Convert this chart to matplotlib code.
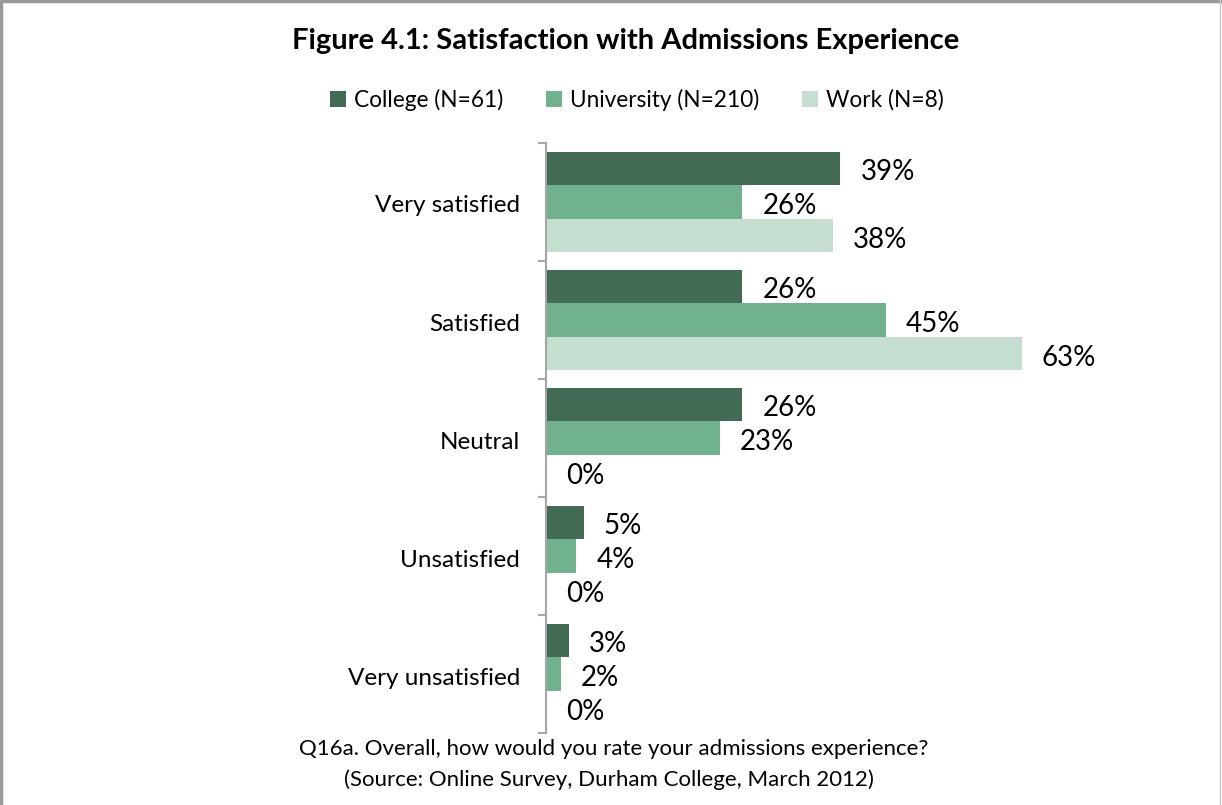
import matplotlib
matplotlib.use("Agg")
import matplotlib.pyplot as plt
from matplotlib.patches import Patch
from matplotlib.lines import Line2D
import numpy as np

plt.rcParams['font.family'] = ['Lato', 'DejaVu Sans']

categories = ["Very satisfied", "Satisfied", "Neutral", "Unsatisfied", "Very unsatisfied"]
series_names = ["College (N=61)", "University (N=210)", "Work (N=8)"]
college = [39, 26, 26, 5, 3]
university = [26, 45, 23, 4, 2]
work = [38, 63, 0, 0, 0]
colors = ["#436A55", "#70B28E", "#C5DED0"]

title = "Figure 4.1: Satisfaction with Admissions Experience"
footer1 = "Q16a. Overall, how would you rate your admissions experience?"
footer2 = "(Source: Online Survey, Durham College, March 2012)"

W, H = 1222, 805
fig = plt.figure(figsize=(W / 100, H / 100), dpi=100)

ax_left, ax_right = 546, 1150
ax_top, ax_bottom = 143, 733
ax = fig.add_axes([ax_left / W, 1 - ax_bottom / H, (ax_right - ax_left) / W, (ax_bottom - ax_top) / H])
px_per_pct = 7.55
ax.set_xlim(0, (ax_right - ax_left) / px_per_pct)
ax.set_ylim(len(categories), 0)

bar_h = 0.284
series = [college, university, work]
for i, (vals, col) in enumerate(zip(series, colors)):
    ys = np.arange(len(categories)) + 0.5 + (i - 1) * bar_h
    ax.barh(ys, vals, height=bar_h, color=col, edgecolor='none')
    for y, v in zip(ys, vals):
        ax.annotate(f"{v}%", (v, y), xytext=(20, -4), textcoords='offset pixels',
                    va='center', ha='left', fontsize=20, color='black')

# category labels
for k, c in enumerate(categories):
    ax.annotate(c, (0, k + 0.5), xytext=(-26, -4), textcoords='offset pixels',
                ha='right', va='center', fontsize=17.5)

for s in ['top', 'right', 'bottom']:
    ax.spines[s].set_visible(False)
ax.spines['left'].set_color('#A6A6A6')
ax.spines['left'].set_linewidth(1.5)
ax.set_xticks([])
ax.set_yticks(np.arange(len(categories) + 1))
ax.set_yticklabels([])
ax.tick_params(axis='y', direction='out', length=6, width=1.5, color='#A6A6A6')

fig.text(0.512, 1 - 41 / H, title, ha='center', va='center', fontsize=21, fontweight='bold')

handles = [Patch(facecolor=c, edgecolor='none') for c in colors]
fig.legend(handles, series_names, loc='center', bbox_to_anchor=(0.521, 1 - 100 / H),
           ncol=3, frameon=False, fontsize=16.3, handlelength=0.7, handleheight=0.7,
           handletextpad=0.35, columnspacing=1.9)

fig.text(0.502, 1 - 749 / H, footer1, ha='center', va='center', fontsize=16)
fig.text(0.498, 1 - 780 / H, footer2, ha='center', va='center', fontsize=16)

# outer frame
fig.add_artist(Line2D([1 / W, 1 / W], [0, 1], transform=fig.transFigure, color='#9A9A9A', lw=2.5))
fig.add_artist(Line2D([0, 1], [1 - 1.5 / H, 1 - 1.5 / H], transform=fig.transFigure, color='#9A9A9A', lw=2.5))
fig.add_artist(Line2D([1 - 2.5 / W, 1 - 2.5 / W], [0, 1], transform=fig.transFigure, color='#C8C8C8', lw=1))

fig.savefig("out.png", dpi=100)
